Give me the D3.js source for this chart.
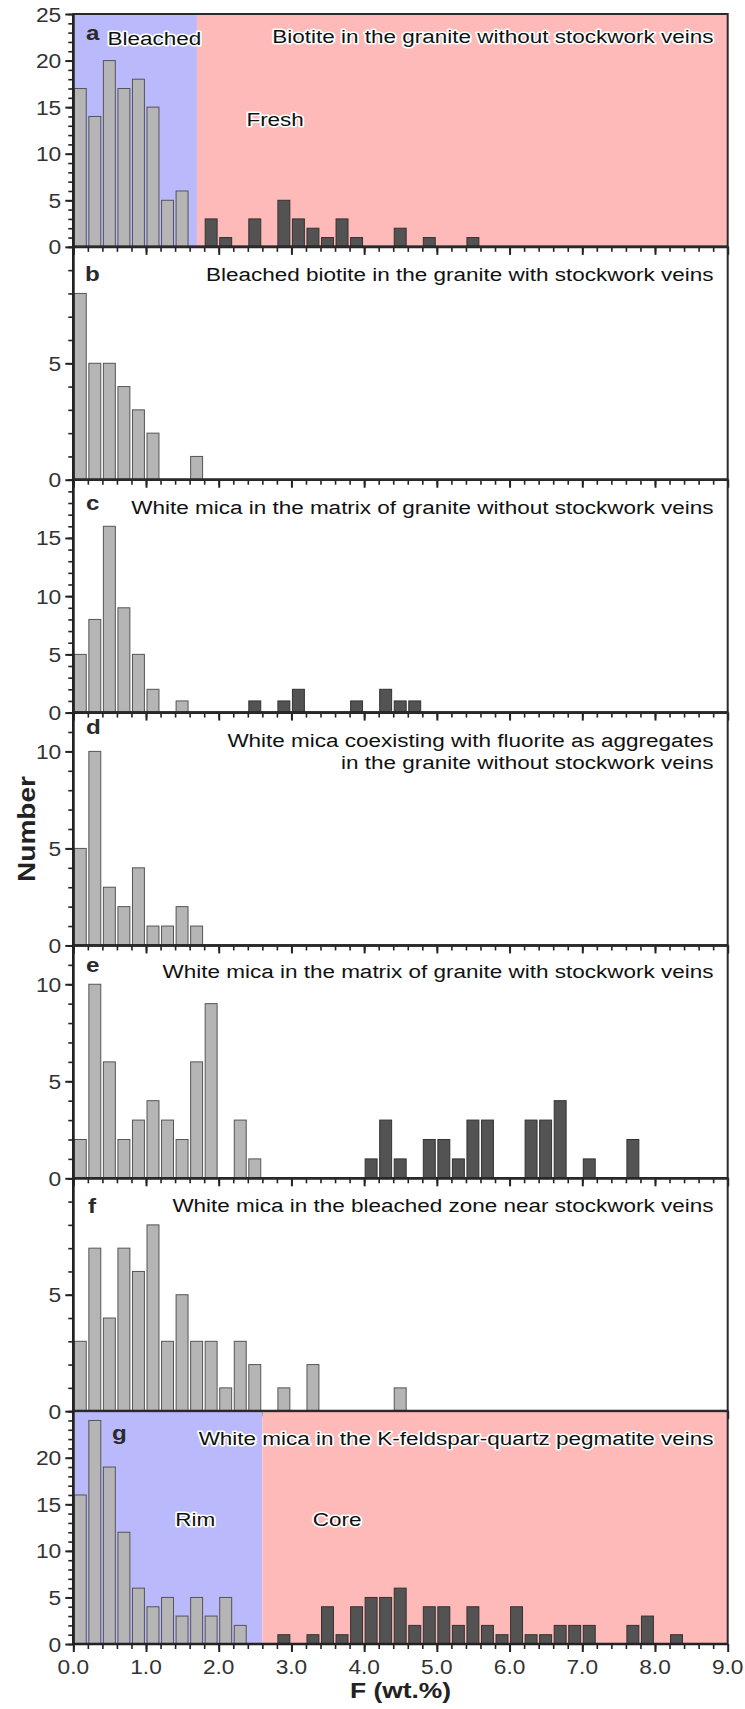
<!DOCTYPE html>
<html><head><meta charset="utf-8">
<script src="https://cdn.jsdelivr.net/npm/d3@7"></script>
<style>body{margin:0;background:#fff}</style>
</head><body>
<svg id="chart" width="745" height="1709"></svg>
<script>
// ---- data (bins of 0.2 wt.% F, starting at 0.0) ----
const binWidth = 0.2;
const countsA = [17,14,20,17,18,15,5,6,0,3,1,0,3,0,5,3,2,1,3,1,0,0,2,0,1,0,0,1];
const countsB = [8,5,5,4,3,2,0,0,1];
const countsC = [5,8,16,9,5,2,0,1,0,0,0,0,1,0,1,2,0,0,0,1,0,2,1,1];
const countsD = [5,10,3,2,4,1,1,2,1];
const countsE = [2,10,6,2,3,4,3,2,6,9,0,3,1,0,0,0,0,0,0,0,1,3,1,0,2,2,1,3,3,0,0,3,3,4,0,1,0,0,2];
const countsF = [3,7,4,7,6,8,3,5,3,3,1,3,2,0,1,0,2,0,0,0,0,0,1];
const countsG = [16,24,19,12,6,4,5,3,5,3,5,2,0,0,1,0,1,4,1,4,5,5,6,2,4,4,2,4,2,1,4,1,1,2,2,2,0,0,2,3,0,1];
const panelCounts = [countsA, countsB, countsC, countsD, countsE, countsF, countsG];
const panelLetters = ["a","b","c","d","e","f","g"];
const panelTitles = [
  ["Biotite in the granite without stockwork veins"],
  ["Bleached biotite in the granite with stockwork veins"],
  ["White mica in the matrix of granite without stockwork veins"],
  ["White mica coexisting with fluorite as aggregates","in the granite without stockwork veins"],
  ["White mica in the matrix of granite with stockwork veins"],
  ["White mica in the bleached zone near stockwork veins"],
  ["White mica in the K-feldspar-quartz pegmatite veins"]
];
const yMax = [25,10,20,12,12,10,25];
const yLabelTicks = [[0,5,10,15,20,25],[0,5],[0,5,10,15],[0,5,10],[0,5,10],[0,5],[0,5,10,15,20]];
const darkFrom = [1.7, Infinity, 2.0, Infinity, 3.0, Infinity, 2.6];
// shaded zones: [panel index, from, to, zone]
const zones = [[0,0,1.7,"low"],[0,1.7,9,"high"],[6,0,2.6,"low"],[6,2.6,9,"high"]];
const zoneLabels = [[0,"Bleached"],[0,"Fresh"],[6,"Rim"],[6,"Core"]];
const xTickLabels = ["0.0","1.0","2.0","3.0","4.0","5.0","6.0","7.0","8.0","9.0"];
const xTitle = "F (wt.%)";
const yTitle = "Number";

// ---- layout ----
const plotL = 73.3, plotR = 727.7, plotT = 14, panelH = 232.86;
const FONT = "'Liberation Sans', Arial, Helvetica, sans-serif";
const colLow = "#b9b9fc", colHigh = "#feb9b9";
const svg = d3.select("#chart");
const x = d3.scaleLinear().domain([0, 9]).range([plotL, plotR]);

function addText(parent, tx, ty, str, o) {
  const g = parent.append("g").attr("transform", `translate(${tx},${ty}) scale(${o.sx||1},1)`);
  const t = g.append("text")
    .attr("text-anchor", o.anchor || "start")
    .attr("font-family", FONT)
    .attr("font-size", o.size)
    .attr("font-weight", o.weight || "normal")
    .attr("fill", o.fill || "#111")
    .text(str);
  if (o.halo) t.attr("stroke", "#fff").attr("stroke-width", o.halo).attr("paint-order", "stroke").attr("stroke-linejoin", "round");
  return t;
}

const titleOffsets = [29, 34, 34, 34, 33, 34, 34];
const letterPos = [[86, 26],[85, 34],[86, 30],[86, 21],[86, 27],[88, 35],[112, 29]];
const zoneLabelPos = {"Bleached":[107.4,31],"Fresh":[246.4,112],"Rim":[175.3,115],"Core":[312.8,115]};

panelCounts.forEach((counts, p) => {
  const y0 = plotT + p * panelH, y1 = y0 + panelH;
  const y = d3.scaleLinear().domain([0, yMax[p]]).range([y1, y0]);
  const g = svg.append("g");

  zones.filter(z => z[0] === p).forEach(z => {
    g.append("rect").attr("x", x(z[1])).attr("y", y0)
      .attr("width", x(z[2]) - x(z[1])).attr("height", y1 - y0)
      .attr("fill", z[3] === "low" ? colLow : colHigh);
  });

  const bins = counts.map((c, i) => ({x0: i * binWidth, c})).filter(d => d.c > 0);
  const bw = x(binWidth) - x(0);
  g.selectAll("rect.bar").data(bins).join("rect").attr("class", "bar")
    .attr("x", d => x(d.x0) + 1.0)
    .attr("width", bw - 2.6)
    .attr("y", d => y(d.c))
    .attr("height", d => y(0) - y(d.c))
    .attr("fill", d => d.x0 >= darkFrom[p] ? "#535353" : "#b5b5b5")
    .attr("stroke", d => d.x0 >= darkFrom[p] ? "#333" : "#555")
    .attr("stroke-width", 1);

  g.append("rect").attr("x", plotL).attr("y", y0).attr("width", plotR - plotL).attr("height", y1 - y0)
    .attr("fill", "none").attr("stroke", "#2a2a2a").attr("stroke-width", 2);

  const yMinor = d3.axisLeft(y).tickValues(d3.range(0, yMax[p] + 1)).tickSize(5).tickFormat("");
  const yMajor = d3.axisLeft(y).tickValues(yLabelTicks[p]).tickSize(8).tickPadding(5).tickFormat(d3.format("d"));
  [yMinor, yMajor].forEach((ax, k) => {
    const ag = g.append("g").attr("transform", `translate(${plotL},0)`).call(ax);
    ag.select(".domain").remove();
    ag.selectAll(".tick line").attr("stroke", "#222").attr("stroke-width", k ? 2 : 1.6);
    if (k) {
      ag.selectAll(".tick text")
        .attr("x", null).attr("dy", null)
        .attr("transform", "translate(-12,7) scale(1.17,1)")
        .attr("text-anchor", "end")
        .attr("font-family", FONT).attr("font-size", 19.5).attr("fill", "#333");
    }
  });

  const xMinor = d3.axisBottom(x).tickValues(d3.range(0, 45).map(i => i * 0.2)).tickSize(5).tickFormat("");
  const xMajor = d3.axisBottom(x).tickValues(d3.range(0, 10)).tickSize(8).tickFormat("");
  [xMinor, xMajor].forEach((ax, k) => {
    const ag = g.append("g").attr("transform", `translate(0,${y1})`).call(ax);
    ag.select(".domain").remove();
    ag.selectAll(".tick line").attr("stroke", "#222").attr("stroke-width", k ? 2 : 1.6);
  });

  g.append("line").attr("x1", plotL).attr("x2", plotL).attr("y1", y0).attr("y2", y1).attr("stroke", "#222").attr("stroke-width", 2.6);
  g.append("line").attr("x1", plotL).attr("x2", plotR).attr("y1", y1).attr("y2", y1).attr("stroke", "#222").attr("stroke-width", 2.6);

  addText(g, letterPos[p][0], y0 + letterPos[p][1], panelLetters[p], {size: 21, weight: "bold", sx: 1.15, fill: "#2a2a2a"});

  const shaded = zones.some(z => z[0] === p);
  panelTitles[p].forEach((line, li) => {
    addText(g, 713.5, y0 + titleOffsets[p] + li * 22.6, line, {size: 18, anchor: "end", sx: 1.25, halo: shaded ? 3 : 0});
  });

  zoneLabels.filter(z => z[0] === p).forEach(z => {
    const pos = zoneLabelPos[z[1]];
    addText(g, pos[0], y0 + pos[1], z[1], {size: 18, sx: 1.25, halo: 3});
  });
});

const plotB = plotT + 7 * panelH;
xTickLabels.forEach((lab, i) => {
  addText(svg, x(i), plotB + 30, lab, {size: 21, anchor: "middle", sx: 1.08, fill: "#333"});
});
addText(svg, x(4.5), plotB + 54, xTitle, {size: 22, weight: "bold", anchor: "middle", sx: 1.2, fill: "#222"});
const yt = svg.append("g").attr("transform", `translate(35,829) rotate(-90)`);
addText(yt, 0, 0, yTitle, {size: 24, weight: "bold", anchor: "middle", sx: 1.17, fill: "#222"});
</script>
</body></html>
